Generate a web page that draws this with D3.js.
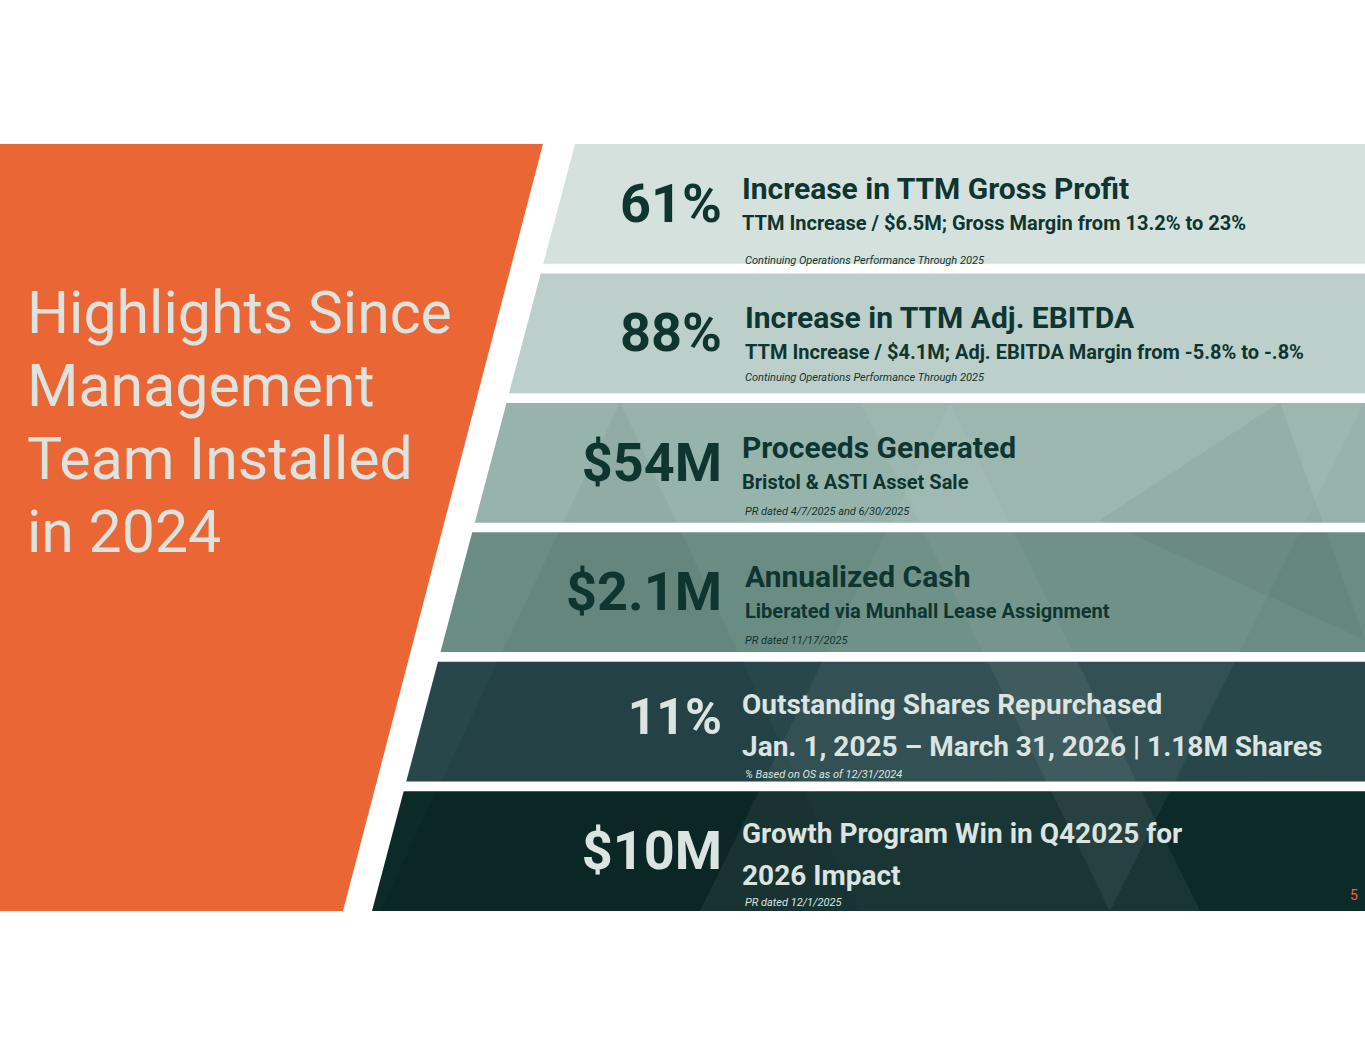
<!DOCTYPE html>
<html><head><meta charset="utf-8">
<script src="https://cdn.jsdelivr.net/npm/d3@7/dist/d3.min.js"></script>
<style>body{margin:0;background:#fff}svg{display:block}
text{font-family:"Liberation Sans Narrow","Roboto","Open Sans",sans-serif}</style></head>
<body><svg id="c" width="1365" height="1055"></svg>
<script>
const headline = ["Highlights Since","Management","Team Installed","in 2024"];
const values = ["61%","88%","$54M","$2.1M","11%","$10M"];
const titles = ["Increase in TTM Gross Profit","Increase in TTM Adj. EBITDA","Proceeds Generated","Annualized Cash","Outstanding Shares Repurchased","Growth Program Win in Q42025 for"];
const subtitles = ["TTM Increase / $6.5M; Gross Margin from  13.2% to 23%","TTM Increase / $4.1M;  Adj. EBITDA Margin from -5.8% to -.8%","Bristol & ASTI Asset Sale","Liberated via Munhall Lease Assignment","Jan. 1, 2025 – March 31, 2026 | 1.18M Shares","2026 Impact"];
const notes = ["Continuing Operations Performance  Through 2025","Continuing Operations Performance  Through  2025","PR dated  4/7/2025 and 6/30/2025","PR dated 11/17/2025","% Based on OS as of 12/31/2024","PR dated 12/1/2025"];
const pageNum = "5";

const fills = ["#d5e1dd","#bccfca","#97b4ac","#6a8d83","#27474a","#0b2a28"];
const svg = d3.select("#c");
const y = d3.scaleBand().domain(d3.range(values.length)).range([144,911]).paddingInner(0.075);
const edge = d3.scaleLinear().domain([144,911]).range([575,372]);
const defs = svg.append("defs");
values.forEach((v,i)=>{
  const t=y(i), b=t+y.bandwidth();
  const g=svg.append("g");
  const pts=[[edge(t),t],[1365,t],[1365,b],[edge(b),b]];
  defs.append("clipPath").attr("id","cl"+i).append("polygon").attr("points",pts.join(" "));
  g.append("polygon").attr("points",pts.join(" ")).attr("fill",fills[i]);
  if(i>=2){
    const cg=g.append("g").attr("clip-path",`url(#cl${i})`);
    const tris=[[[380,911],[620,402],[860,911]],[[700,911],[950,402],[1200,911]],[[1100,520],[1280,402],[1365,640]],[[860,402],[1110,911],[1365,402]]];
    tris.forEach((p,k)=>cg.append("polygon").attr("points",p.join(" "))
      .attr("fill",k%2?"#ffffff":"#000000").attr("opacity",i>=4?0.06:0.045));
  }
  const light=i>=4, col=light?"#dbe4e0":"#0f3530";
  g.append("text").attr("x",722).attr("y",t+(i==4?72:78)).attr("text-anchor","end")
    .attr("font-size",i==4?50:54).attr("font-weight",700).attr("fill",col).text(v);
  const tx=i==1||i==3?745:742;
  g.append("text").attr("x",tx).attr("y",t+(light?52:55)).attr("font-size",light?28:30).attr("font-weight",700).attr("fill",col).text(titles[i]);
  g.append("text").attr("x",tx).attr("y",t+(light?94:86)).attr("font-size",light?28:20).attr("font-weight",700).attr("fill",col).text(subtitles[i]);
  g.append("text").attr("x",745).attr("y",t+(i==0?120:i==1?108:i==5?115:i==4?116:112)).attr("font-size",11).attr("font-style","italic").attr("fill",col).text(notes[i]);
});
svg.append("polygon").attr("points",[[0,144],[543,144],[343,911],[0,911]].join(" ")).attr("fill","#eb6635");
svg.append("g").selectAll("text").data(headline).join("text").attr("x",27).attr("y",(d,i)=>333+i*73)
  .attr("font-size",59).attr("fill","#dde3df").text(d=>d);
svg.append("text").attr("x",1350).attr("y",900).attr("font-size",14).attr("fill","#eb6635").text(pageNum);
</script></body></html>
